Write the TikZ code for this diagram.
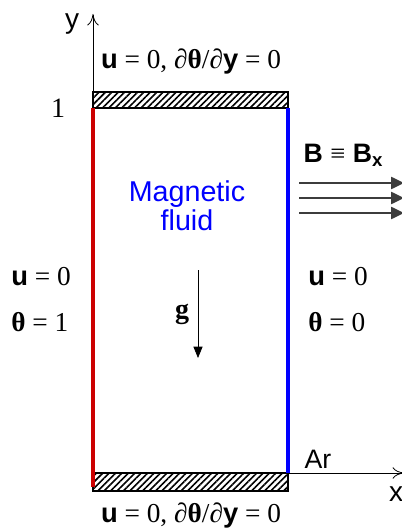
\documentclass[tikz,border=0pt]{standalone}
\usepackage{fontspec}
\setmainfont{Liberation Serif}
\setsansfont{Liberation Sans}
\usetikzlibrary{arrows.meta,patterns.meta}
\definecolor{hotwall}{RGB}{204,0,0}
\definecolor{coldwall}{RGB}{0,0,255}
\definecolor{fieldline}{RGB}{60,60,60}
\newcommand{\bvec}[1]{\textsf{\textbf{#1}}}
\newcommand{\bth}{\textbf{θ}}
\newcommand{\adiab}{\bvec{u} = 0, \textit{∂}\bth/\textit{∂}\bvec{y} = 0}
\tikzset{
  wallhatch/.style={draw=black,thick,pattern={Lines[angle=45,distance=3.4pt,line width=1.2pt]}},
  bclabel/.style={font=\fontsize{20.5}{22}\selectfont,inner sep=0pt},
  axis/.style={-{To[length=3mm,width=3mm]},semithick},
  fieldarrow/.style={-{Triangle[length=3.4mm,width=3.2mm]},line width=1.3pt,fieldline},
  gravity/.style={-{Triangle[length=3mm,width=2.4mm]},semithick}
}

\begin{document}
\begin{tikzpicture}[x=0.75pt,y=-0.75pt]
  \useasboundingbox (0,0) rectangle (402,531);
  % corners of the cavity
  \coordinate (bl) at (93,473);
  \coordinate (tl) at (93,108);
  \coordinate (br) at (288,473);
  \coordinate (tr) at (288,108);
  \coordinate (ytip) at (93,14);
  \coordinate (xtip) at (404,473);

  \fill[white] (0,0) rectangle (402,531);
  \draw[wallhatch] (93,92) rectangle (288,108);
  \draw[wallhatch] (93,473) rectangle (288,491);
  \draw[hotwall,line width=3pt] (tl) -- (93,487);
  \draw[coldwall,line width=3pt] (tr) -- (br);

  \draw[axis] (93,92) -- (ytip);
  \draw[axis] (br) -- (xtip);
  \node[font=\sffamily\fontsize{21}{22}\selectfont] (ylab) at (72,24) {y};
  \node[font=\sffamily\fontsize{21}{22}\selectfont] (xlab) at (396,494) {x};
  \node[font=\fontsize{21}{22}\selectfont] (one) at (58,108) {1};
  \node[font=\sffamily\fontsize{20}{22}\selectfont] (ar) at (318,459) {Ar};

  \node[bclabel] (topbc) at (191,61) {\adiab};
  \node[bclabel] (botbc) at (191,515) {\adiab};
  \node[bclabel,anchor=west] (lu) at (11,277) {\bvec{u} = 0};
  \node[bclabel,anchor=west] (lt) at (11,322) {\bth{} = 1};
  \node[bclabel,anchor=west] (ru) at (308,277) {\bvec{u} = 0};
  \node[bclabel,anchor=west] (rt) at (308,322) {\bth{} = 0};

  \node[font=\sffamily\fontsize{21.5}{22}\selectfont,text=coldwall,align=center]
    (fluid) at (187,206) {Magnetic\\fluid};
  \node[font=\bfseries\fontsize{21}{22}\selectfont] (glab) at (182,314) {g};
  \coordinate (gtop) at (198,270);
  \coordinate (gend) at (198,358);
  \draw[gravity] (gtop) -- (gend);

  \node[font=\sffamily\bfseries\fontsize{20}{22}\selectfont,anchor=west]
    (blab) at (299,155) {B {\rmfamily\mdseries ≡} B\textsubscript{x}};
  \foreach \yy [count=\i] in {183,198,213} {
    \coordinate (fs\i) at (299,\yy);
    \coordinate (fe\i) at (404,\yy);
    \draw[fieldarrow] (fs\i) -- (fe\i);
  }
\end{tikzpicture}
\end{document}
